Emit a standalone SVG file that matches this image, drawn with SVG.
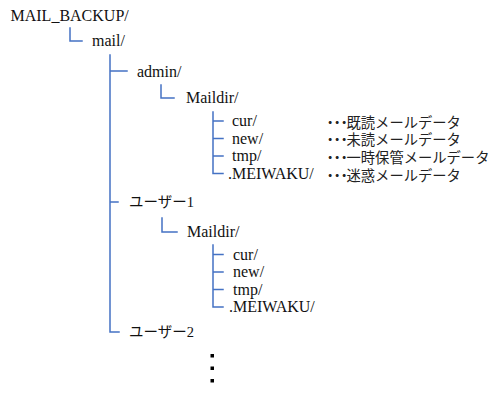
<svg xmlns="http://www.w3.org/2000/svg" width="500" height="402" viewBox="0 0 500 402">
<style>
.ln{fill:none;stroke:#4472C4;stroke-width:1.5;stroke-linecap:square}
.t{font-family:"Liberation Serif","Noto Sans CJK JP",serif;font-size:16px;fill:#111}
.j{font-family:"Liberation Serif","Noto Sans CJK JP",serif;font-size:14.5px;fill:#111}
.c{font-family:"Liberation Sans","Noto Sans CJK JP",sans-serif;font-size:14.3px;fill:#222}
.d{fill:#000}
</style>
<rect width="500" height="402" fill="#fff"/>
<g id="connectors">
<path class="ln" d="M70 28V41H82"/>
<path class="ln" d="M110 55V332H119M110 71H127M110 202H118"/>
<path class="ln" d="M161 85V98H174"/>
<path class="ln" d="M213 112V173.5H223M213 121H223M213 138.5H223M213 156H223"/>
<path class="ln" d="M162 218V232H177"/>
<path class="ln" d="M213 245V307H223M213 254.5H223M213 272H223M213 289.5H223"/>
</g>
<g id="mail_backup"><text class="t" x="10.5" y="20.5">MAIL_BACKUP/</text></g>
<g id="mail"><text class="t" x="92" y="46">mail/</text></g>
<g id="admin"><text class="t" x="137" y="77">admin/</text></g>
<g id="admin_maildir"><text class="t" x="186" y="103">Maildir/</text></g>
<g id="admin_cur"><text class="t" x="232" y="126">cur/</text><text class="c" x="323 330 337 346.5" y="127.5">・・・既読メールデータ</text></g>
<g id="admin_new"><text class="t" x="232" y="143.5">new/</text><text class="c" x="323 330 337 346.5" y="145">・・・未読メールデータ</text></g>
<g id="admin_tmp"><text class="t" x="232" y="161">tmp/</text><text class="c" x="323 330 337 346.5" y="162.5">・・・一時保管メールデータ</text></g>
<g id="admin_meiwaku"><text class="t" x="228" y="178.5">.MEIWAKU/</text><text class="c" x="323 330 337 346.5" y="181">・・・迷惑メールデータ</text></g>
<g id="user1"><text class="j" x="129" y="207">ユーザー1</text></g>
<g id="user1_maildir"><text class="t" x="187" y="237">Maildir/</text></g>
<g id="user1_cur"><text class="t" x="233" y="259.5">cur/</text></g>
<g id="user1_new"><text class="t" x="233" y="277">new/</text></g>
<g id="user1_tmp"><text class="t" x="233" y="294.5">tmp/</text></g>
<g id="user1_meiwaku"><text class="t" x="229" y="312">.MEIWAKU/</text></g>
<g id="user2"><text class="j" x="129" y="337">ユーザー2</text></g>
<g id="ellipsis">
<rect class="d" x="210.5" y="354" width="3.5" height="3.5"/>
<rect class="d" x="210.5" y="366.5" width="3.5" height="3.5"/>
<rect class="d" x="210.5" y="379" width="3.5" height="3.5"/>
</g>
</svg>
